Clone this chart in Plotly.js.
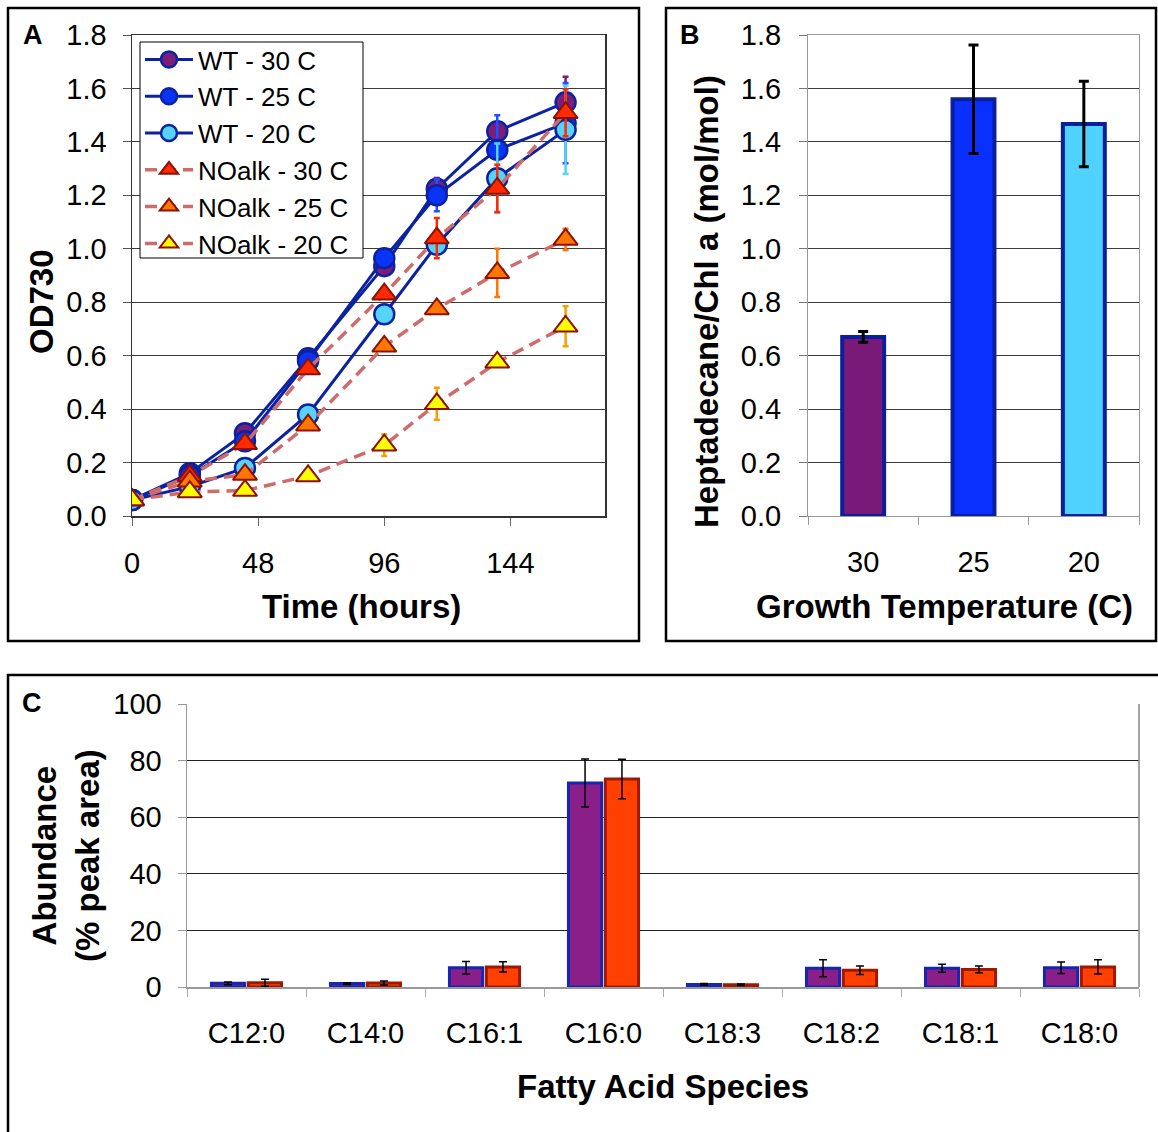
<!DOCTYPE html>
<html>
<head>
<meta charset="utf-8">
<script src="https://cdn.plot.ly/plotly-3.0.1.min.js"></script>
<style>
  html, body { margin: 0; padding: 0; background: #fff; }
  #chart { width: 1158px; height: 1132px; }
</style>
</head>
<body>
<div id="chart"></div>
<script>
// ---- Panel A: growth curves (OD730 vs time) ----
const timeHours = [0, 22, 43, 67, 96, 116, 139, 165];

const wt30 = [0.06, 0.16, 0.31, 0.59, 0.935, 1.225, 1.44, 1.548];
const wt30Err = [0, 0, 0.01, 0.01, 0.01, 0.04, 0.01, 0.096];
const wt25 = [0.06, 0.15, 0.28, 0.58, 0.965, 1.20, 1.37, 1.47];
const wt25Err = [0, 0, 0, 0, 0.01, 0.06, 0.13, 0.15];
const wt20 = [0.06, 0.11, 0.18, 0.38, 0.755, 1.015, 1.264, 1.445];
const wt20Err = [0, 0, 0, 0, 0, 0.01, 0.13, 0.165];

const noalk30 = [0.06, 0.15, 0.27, 0.55, 0.83, 1.04, 1.226, 1.509];
const noalk30Err = [0, 0, 0, 0, 0, 0.075, 0.088, 0.088];
const noalk25 = [0.06, 0.13, 0.155, 0.34, 0.635, 0.775, 0.91, 1.035];
const noalk25Err = [0, 0, 0, 0, 0, 0, 0.09, 0.04];
const noalk20 = [0.06, 0.09, 0.095, 0.15, 0.265, 0.42, 0.575, 0.71];
const noalk20Err = [0, 0, 0, 0, 0.04, 0.06, 0, 0.075];

const growthLabels = ["WT - 30 C", "WT - 25 C", "WT - 20 C",
                      "NOalk - 30 C", "NOalk - 25 C", "NOalk - 20 C"];

// ---- Panel B: heptadecane content by growth temperature ----
const tempLabels = ["30", "25", "20"];
const heptadecane = [0.67, 1.56, 1.467];
const heptadecaneErr = [0.02, 0.203, 0.16];

// ---- Panel C: fatty acid profile ----
const fattyAcids = ["C12:0", "C14:0", "C16:1", "C16:0", "C18:3", "C18:2", "C18:1", "C18:0"];
const faSeriesA = [1.3, 1.2, 6.8, 72.1, 0.9, 6.6, 6.6, 6.8];
const faSeriesAErr = [0.5, 0.3, 2.2, 8.5, 0.3, 3.0, 1.4, 2.0];
const faSeriesB = [1.5, 1.4, 7.1, 73.5, 0.8, 5.9, 6.2, 7.1];
const faSeriesBErr = [1.2, 0.7, 1.8, 7.0, 0.3, 1.5, 1.2, 2.5];

// ---- styling ----
const FONT = "Liberation Sans, Arial, Helvetica, sans-serif";
const NAVY = "#0b22a3";
const DASH_RED = "#cf6b6b";
const TRI_EDGE = "#8e1100";
const W = 1158, H = 1132;
const px = v => v / W;          // pixel -> paper x
const py = v => 1 - v / H;      // pixel -> paper y

function wtTrace(name, y, err, fill, errColor) {
  return {
    type: "scatter", mode: "lines+markers", name: name,
    x: timeHours, y: y, xaxis: "x", yaxis: "y",
    line: { color: NAVY, width: 3 },
    marker: { symbol: "circle", size: 20, color: fill, line: { color: NAVY, width: 2.5 } },
    error_y: { type: "data", array: err, visible: true, color: errColor, thickness: 2.5, width: 3 }
  };
}
function noalkTrace(name, y, err, fill, errColor) {
  return {
    type: "scatter", mode: "lines+markers", name: name,
    x: timeHours, y: y, xaxis: "x", yaxis: "y",
    line: { color: DASH_RED, width: 3.5, dash: "12px,7px" },
    marker: { symbol: "triangle-up", size: 21, color: fill, line: { color: TRI_EDGE, width: 2 } },
    error_y: { type: "data", array: err, visible: true, color: errColor, thickness: 2.5, width: 3 }
  };
}

const traces = [
  wtTrace(growthLabels[0], wt30, wt30Err, "#7a1f78", "#7a1f78"),
  wtTrace(growthLabels[1], wt25, wt25Err, "#0a34f5", "#2050ff"),
  wtTrace(growthLabels[2], wt20, wt20Err, "#55d3fb", "#55d3fb"),
  noalkTrace(growthLabels[3], noalk30, noalk30Err, "#ff2a00", "#ff2a00"),
  noalkTrace(growthLabels[4], noalk25, noalk25Err, "#ff7700", "#ff7700"),
  noalkTrace(growthLabels[5], noalk20, noalk20Err, "#ffff00", "#f2a200"),
  {
    type: "bar", x: tempLabels, y: heptadecane, xaxis: "x2", yaxis: "y2",
    width: 0.38, showlegend: false,
    marker: { color: ["#7a1a78", "#0a30ff", "#50d2ff"], line: { color: "#0a1f9e", width: 4 } },
    error_y: { type: "data", array: heptadecaneErr, visible: true, color: "#000", thickness: 3, width: 5 }
  },
  {
    type: "bar", x: fattyAcids, y: faSeriesA, xaxis: "x3", yaxis: "y3", showlegend: false,
    marker: { color: "#8a1f8a", line: { color: "#1526b0", width: 3 } },
    error_y: { type: "data", array: faSeriesAErr, visible: true, color: "#000", thickness: 1.5, width: 4 }
  },
  {
    type: "bar", x: fattyAcids, y: faSeriesB, xaxis: "x3", yaxis: "y3", showlegend: false,
    marker: { color: "#ff4000", line: { color: "#a01800", width: 3 } },
    error_y: { type: "data", array: faSeriesBErr, visible: true, color: "#000", thickness: 1.5, width: 4 }
  }
];

const tickFont = { family: FONT, size: 29, color: "#000" };
const titleFont = { family: FONT, size: 33, color: "#000", weight: "bold" };
const letterFont = { family: FONT, size: 27, color: "#000", weight: "bold" };

const yDomTop = [py(516), py(35)];

function label(text, x, y, font, angle) {
  return {
    text: text, x: px(x), y: py(y), xref: "paper", yref: "paper",
    xanchor: "center", yanchor: "middle", showarrow: false,
    textangle: angle || 0, font: font
  };
}

const layout = {
  width: W, height: H,
  margin: { l: 0, r: 0, t: 0, b: 0, pad: 0 },
  paper_bgcolor: "#fff", plot_bgcolor: "#fff",
  font: { family: FONT, color: "#000" },
  barmode: "group", bargap: 0.38, bargroupgap: 0.1,
  showlegend: true,
  // legend entries sit on a framed white box drawn as a shape below
  legend: {
    x: px(140), y: py(36), xanchor: "left", yanchor: "top",
    bgcolor: "rgba(0,0,0,0)", borderwidth: 0,
    font: { family: FONT, size: 26, color: "#000" },
    itemwidth: 48, tracegroupgap: 0
  },
  // Panel A axes
  xaxis: {
    domain: [px(132), px(605)], anchor: "y", range: [0, 180],
    tickvals: [0, 48, 96, 144], ticks: "outside", ticklen: 8, tickcolor: "#666",
    ticklabelstandoff: 13, tickfont: tickFont,
    showline: true, linecolor: "#333", linewidth: 1.5, mirror: true,
    showgrid: false, zeroline: false, fixedrange: true
  },
  yaxis: {
    domain: yDomTop, anchor: "x", range: [0, 1.8], dtick: 0.2, tickformat: ".1f",
    ticks: "outside", ticklen: 8, tickcolor: "#555", ticklabelstandoff: 10, tickfont: tickFont,
    showline: true, linecolor: "#333", linewidth: 1.5, mirror: true,
    showgrid: true, gridcolor: "#3a3a3a", gridwidth: 1, zeroline: false, fixedrange: true
  },
  // Panel B axes
  xaxis2: {
    domain: [px(808), px(1139)], anchor: "y2", type: "category",
    tickson: "boundaries", ticks: "outside", ticklen: 8, tickcolor: "#999",
    ticklabelstandoff: 20, tickfont: tickFont,
    showline: true, linecolor: "#999", linewidth: 1, mirror: true,
    showgrid: false, zeroline: false, fixedrange: true
  },
  yaxis2: {
    domain: yDomTop, anchor: "x2", range: [0, 1.8], dtick: 0.2, tickformat: ".1f",
    ticks: "outside", ticklen: 8, tickcolor: "#777", ticklabelstandoff: 12, tickfont: tickFont,
    showline: true, linecolor: "#999", linewidth: 1, mirror: true,
    showgrid: true, gridcolor: "#3a3a3a", gridwidth: 1, zeroline: false, fixedrange: true
  },
  // Panel C axes
  xaxis3: {
    domain: [px(187), px(1139)], anchor: "y3", type: "category",
    tickson: "boundaries", ticks: "outside", ticklen: 8, tickcolor: "#aaa",
    ticklabelstandoff: 20, tickfont: tickFont,
    showline: true, linecolor: "#999", linewidth: 1.5, mirror: false,
    showgrid: false, zeroline: false, fixedrange: true
  },
  yaxis3: {
    domain: [py(987), py(704)], anchor: "x3", range: [0, 100], dtick: 20,
    ticks: "outside", ticklen: 8, tickcolor: "#999", ticklabelstandoff: 10, tickfont: tickFont,
    showline: true, linecolor: "#999", linewidth: 1.5, mirror: false,
    showgrid: true, gridcolor: "#222", gridwidth: 1, zeroline: false, fixedrange: true
  },
  shapes: [
    // panel frames
    { type: "rect", xref: "paper", yref: "paper", x0: px(8), x1: px(639), y0: py(641), y1: py(8),
      line: { color: "#000", width: 2.5 } },
    { type: "rect", xref: "paper", yref: "paper", x0: px(666), x1: px(1156), y0: py(641), y1: py(8),
      line: { color: "#000", width: 2.5 } },
    { type: "rect", xref: "paper", yref: "paper", x0: px(8), x1: px(1170), y0: py(1150), y1: py(675),
      line: { color: "#000", width: 2.5 } },
    // right edge of panel C plotting area
    { type: "line", xref: "paper", yref: "paper", x0: px(1139), x1: px(1139), y0: py(987), y1: py(704),
      line: { color: "#888", width: 1.5 } },
    // legend frame for panel A
    { type: "rect", xref: "paper", yref: "paper", x0: px(140), x1: px(363), y0: py(258), y1: py(42),
      fillcolor: "#fff", line: { color: "#000", width: 1 }, layer: "above" }
  ],
  annotations: [
    label("A", 33, 35, letterFont),
    label("B", 690, 35, letterFont),
    label("C", 32, 703, letterFont),
    label("OD730", 41, 302, titleFont, -90),
    label("Time (hours)", 361, 606, titleFont),
    label("Heptadecane/Chl a (mol/mol)", 706, 302, titleFont, -90),
    label("Growth Temperature (C)", 944, 606, titleFont),
    label("Abundance<br>(% peak area)", 66, 856, titleFont, -90),
    label("Fatty Acid Species", 663, 1086, titleFont)
  ]
};

Plotly.newPlot("chart", traces, layout, { staticPlot: true, displayModeBar: false });
</script>
</body>
</html>
